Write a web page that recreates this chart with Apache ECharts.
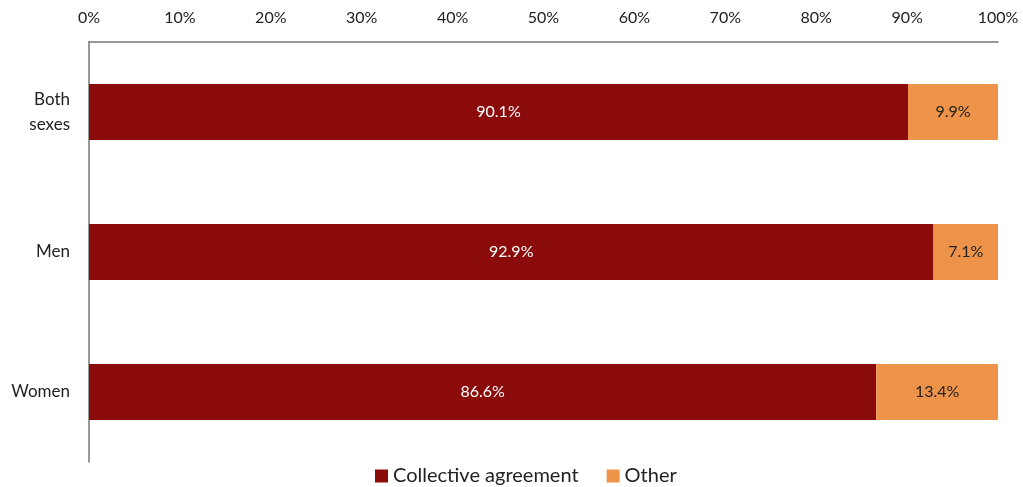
<!DOCTYPE html>
<html><head><meta charset="utf-8">
<script src="https://cdn.jsdelivr.net/npm/echarts@6/dist/echarts.min.js"></script>
<style>html,body{margin:0;padding:0;background:#fff}#c{width:1023px;height:487px}</style>
</head><body><div id="c"></div>
<script>
const categories = ['Both\nsexes', 'Men', 'Women'];
const collective = [90.1, 92.9, 86.6];
const other = [9.9, 7.1, 13.4];
const seriesNames = ['Collective agreement', 'Other'];

const font = 'Lato, "Open Sans", sans-serif';
const chart = echarts.init(document.getElementById('c'));
chart.setOption({
  animation: false,
  textStyle: {fontFamily: font},
  grid: {left: 89, right: 25, top: 42, bottom: 25, containLabel: false},
  legend: {
    data: seriesNames, top: 461, left: 370, itemWidth: 13, itemHeight: 13, itemGap: 28,
    icon: 'rect', textStyle: {fontSize: 20, color: '#222', fontFamily: font}
  },
  xAxis: {
    type: 'value', position: 'top', min: 0, max: 100, interval: 10,
    axisLine: {show: true, lineStyle: {color: '#777', width: 1.5}},
    axisTick: {show: false}, splitLine: {show: false},
    axisLabel: {formatter: '{value}%', fontSize: 16, color: '#222', margin: 16}
  },
  yAxis: {
    type: 'category', data: categories, inverse: true,
    axisLine: {show: true, lineStyle: {color: '#777', width: 1.5}},
    axisTick: {show: false},
    axisLabel: {fontSize: 17, color: '#222', margin: 19, lineHeight: 25, align: 'right'}
  },
  series: [
    {name: seriesNames[0], type: 'bar', stack: 's', data: collective, barWidth: 56,
     itemStyle: {color: '#8B0B0B'},
     label: {show: true, position: 'inside', formatter: p => p.value.toFixed(1) + '%', color: '#fff', fontSize: 16}},
    {name: seriesNames[1], type: 'bar', stack: 's', data: other, barWidth: 56,
     itemStyle: {color: '#EE944A'},
     label: {show: true, position: 'inside', formatter: p => p.value.toFixed(1) + '%', color: '#222', fontSize: 16}}
  ]
});
</script></body></html>
